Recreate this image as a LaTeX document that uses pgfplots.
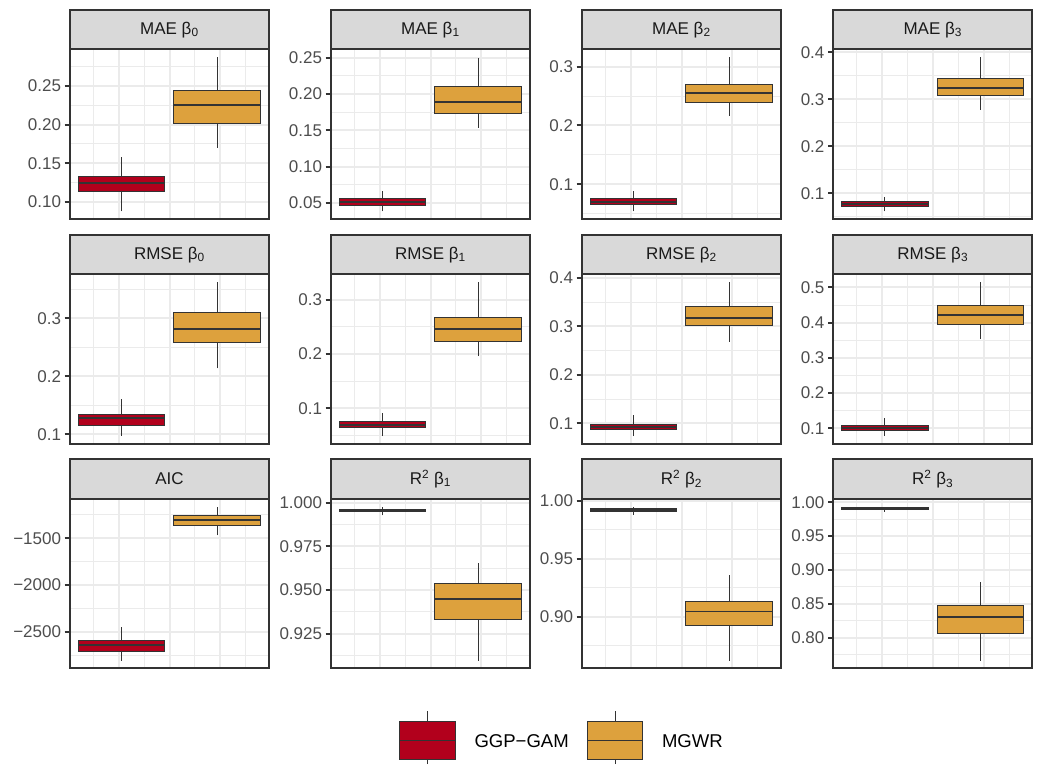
\documentclass[border=0pt]{standalone}
\usepackage{fontspec}
\setmainfont{Liberation Sans}
\usepackage{pgfplots}
\pgfplotsset{compat=1.18}
\definecolor{ggred}{RGB}{178,0,28}
\definecolor{ggorange}{RGB}{221,161,61}
\definecolor{grey20}{HTML}{333333}
\definecolor{grey30}{HTML}{4D4D4D}
\definecolor{grey10}{HTML}{1A1A1A}
\definecolor{grey85}{HTML}{D9D9D9}
\definecolor{grey92}{HTML}{EBEBEB}
\newcommand{\fs}{\fontsize{12.75}{14}\selectfont}
\newcommand{\fl}{\fontsize{13.9}{15}\selectfont}
\pgfplotsset{
  panel/.style={
    scale only axis, width=149.25pt, height=127.2pt, anchor=south west,
    xmin=0, xmax=1,
    xtick={0.244,0.5,0.756}, minor xtick={0.116,0.372,0.628,0.884},
    xticklabels={}, xmajorticks=false, xminorticks=false,
    yminorticks=false, scaled y ticks=false,
    ytick pos=left, minor tick length=0pt,
    grid=both,
    major grid style={grey92, line width=1.5pt},
    minor grid style={grey92, line width=0.75pt},
    axis line style={grey20, line width=1.5pt},
    tick align=outside, major tick length=4pt,
    ytick style={grey20, line width=1.5pt},
    yticklabel style={font=\fs, text=grey30, inner sep=0pt, xshift=-2.5pt},
    clip=false,
  }
}
% box: left, right, lower whisker, lower quartile, median, upper quartile, upper whisker, colour
\newcommand{\bxg}[8]{%
  \addplot[grey20, line width=0.75pt] coordinates {({(#1+#2)/2},#3) ({(#1+#2)/2},#4)};
  \addplot[grey20, line width=0.75pt] coordinates {({(#1+#2)/2},#6) ({(#1+#2)/2},#7)};
  \addplot[draw=grey20, fill=#8, line width=0.75pt] coordinates {(#1,#4) (#2,#4) (#2,#6) (#1,#6)} -- cycle;
  \addplot[grey20, line width=1.4pt] coordinates {(#1,#5) (#2,#5)};}
\newcommand{\bxr}[5]{\bxg{0.041}{0.476}{#1}{#2}{#3}{#4}{#5}{ggred}}
\newcommand{\bxo}[5]{\bxg{0.5215}{0.9565}{#1}{#2}{#3}{#4}{#5}{ggorange}}
\newcommand{\strip}[1]{%
  \draw[grey20, fill=grey85, line width=1.5pt] (rel axis cs:0,1) rectangle ([yshift=29.6pt]rel axis cs:1,1);
  \node[text=grey10, font=\fs, inner sep=0pt] at ([yshift=14.8pt]rel axis cs:0.5,1) {#1};}
\begin{document}
\begin{tikzpicture}
\useasboundingbox (0,0) rectangle (778.5pt,573pt);
% ---------------- Row 1
\begin{axis}[panel, at={(52.5pt,408.75pt)}, ymin=0.078, ymax=0.2972,
  ytick={0.10,0.15,0.20,0.25}, yticklabels={0.10,0.15,0.20,0.25}, minor ytick={0.125,0.175,0.225,0.275}]
\bxr{0.088}{0.1138}{0.125}{0.1327}{0.1582}
\bxo{0.1702}{0.2018}{0.2254}{0.2444}{0.2871}
\strip{MAE β\textsubscript{0}}
\end{axis}
\begin{axis}[panel, at={(248.25pt,408.75pt)}, ymin=0.028, ymax=0.2613,
  ytick={0.05,0.10,0.15,0.20,0.25}, yticklabels={0.05,0.10,0.15,0.20,0.25}, minor ytick={0.075,0.125,0.175,0.225}]
\bxr{0.0386}{0.0468}{0.0518}{0.0559}{0.0665}
\bxo{0.1536}{0.1738}{0.1893}{0.2100}{0.2500}
\strip{MAE β\textsubscript{1}}
\end{axis}
\begin{axis}[panel, at={(436.5pt,408.75pt)}, ymin=0.041, ymax=0.3292,
  ytick={0.1,0.2,0.3}, yticklabels={0.1,0.2,0.3}, minor ytick={0.05,0.15,0.25}]
\bxr{0.054}{0.0653}{0.0704}{0.075}{0.088}
\bxo{0.2167}{0.2394}{0.2547}{0.270}{0.316}
\strip{MAE β\textsubscript{2}}
\end{axis}
\begin{axis}[panel, at={(625pt,408.75pt)}, ymin=0.0453, ymax=0.406,
  ytick={0.1,0.2,0.3,0.4}, yticklabels={0.1,0.2,0.3,0.4}, minor ytick={0.05,0.15,0.25,0.35}]
\bxr{0.0617}{0.0715}{0.0779}{0.083}{0.0928}
\bxo{0.2773}{0.3085}{0.3241}{0.3433}{0.3894}
\strip{MAE β\textsubscript{3}}
\end{axis}
% ---------------- Row 2
\begin{axis}[panel, at={(52.5pt,240pt)}, ymin=0.0833, ymax=0.3759,
  ytick={0.1,0.2,0.3}, yticklabels={0.1,0.2,0.3}, minor ytick={0.15,0.25,0.35}]
\bxr{0.0976}{0.116}{0.1276}{0.1345}{0.1609}
\bxo{0.2138}{0.2579}{0.282}{0.3097}{0.362}
\strip{RMSE β\textsubscript{0}}
\end{axis}
\begin{axis}[panel, at={(248.25pt,240pt)}, ymin=0.0343, ymax=0.3467,
  ytick={0.1,0.2,0.3}, yticklabels={0.1,0.2,0.3}, minor ytick={0.05,0.15,0.25}]
\bxr{0.049}{0.0638}{0.0693}{0.0753}{0.0908}
\bxo{0.1963}{0.2234}{0.2455}{0.2676}{0.332}
\strip{RMSE β\textsubscript{1}}
\end{axis}
\begin{axis}[panel, at={(436.5pt,240pt)}, ymin=0.0574, ymax=0.407,
  ytick={0.1,0.2,0.3,0.4}, yticklabels={0.1,0.2,0.3,0.4}, minor ytick={0.15,0.25,0.35}]
\bxr{0.0738}{0.0876}{0.093}{0.0986}{0.117}
\bxo{0.2683}{0.302}{0.3177}{0.341}{0.3905}
\strip{RMSE β\textsubscript{2}}
\end{axis}
\begin{axis}[panel, at={(625pt,240pt)}, ymin=0.0555, ymax=0.5369,
  ytick={0.1,0.2,0.3,0.4,0.5}, yticklabels={0.1,0.2,0.3,0.4,0.5}, minor ytick={0.15,0.25,0.35,0.45}]
\bxr{0.0782}{0.0943}{0.101}{0.1074}{0.1284}
\bxo{0.3543}{0.396}{0.4215}{0.4498}{0.5142}
\strip{RMSE β\textsubscript{3}}
\end{axis}
% ---------------- Row 3
\begin{axis}[panel, at={(52.5pt,71.8pt)}, ymin=-2892, ymax=-1076,
  ytick={-2500,-2000,-1500}, yticklabels={−2500,−2000,−1500}, minor ytick={-2750,-2250,-1750,-1250}]
\bxr{-2811}{-2714}{-2643}{-2593}{-2453}
\bxo{-1468}{-1361}{-1301}{-1258}{-1162}
\strip{AIC}
\end{axis}
\begin{axis}[panel, at={(248.25pt,71.8pt)}, ymin=0.9052, ymax=1.0023,
  ytick={0.925,0.95,0.975,1}, yticklabels={0.925,0.950,0.975,1.000}, minor ytick={0.9125,0.9375,0.9625,0.9875}]
\bxr{0.9928}{0.9947}{0.9954}{0.9962}{0.9977}
\bxo{0.9095}{0.9330}{0.9447}{0.9535}{0.9653}
\strip{R\textsuperscript{2} β\textsubscript{1}}
\end{axis}
\begin{axis}[panel, at={(436.5pt,71.8pt)}, ymin=0.8555, ymax=1.0017,
  ytick={0.9,0.95,1}, yticklabels={0.90,0.95,1.00}, minor ytick={0.875,0.925,0.975}]
\bxr{0.988}{0.9909}{0.992}{0.9931}{0.9948}
\bxo{0.8621}{0.8922}{0.9044}{0.9133}{0.9362}
\strip{R\textsuperscript{2} β\textsubscript{2}}
\end{axis}
\begin{axis}[panel, at={(625pt,71.8pt)}, ymin=0.7548, ymax=1.0053,
  ytick={0.8,0.85,0.9,0.95,1}, yticklabels={0.80,0.85,0.90,0.95,1.00}, minor ytick={0.775,0.825,0.875,0.925,0.975}]
\bxr{0.9857}{0.9886}{0.9901}{0.9916}{0.9935}
\bxo{0.7662}{0.8066}{0.8303}{0.847}{0.882}
\strip{R\textsuperscript{2} β\textsubscript{3}}
\end{axis}
% ---------------- Legend
\draw[grey20, line width=0.75pt] (320.5pt,0pt) -- (320.5pt,39.75pt);
\draw[grey20, fill=ggred, line width=0.75pt] (299.5pt,3.75pt) rectangle (341.25pt,31.7pt);
\draw[grey20, line width=0.75pt] (299.5pt,17.75pt) -- (341.25pt,17.75pt);
\node[anchor=west, font=\fl, text=black, inner sep=0pt] at (355.7pt,17.5pt) {GGP−GAM};
\draw[grey20, line width=0.75pt] (461.25pt,0pt) -- (461.25pt,39.75pt);
\draw[grey20, fill=ggorange, line width=0.75pt] (440.25pt,3.75pt) rectangle (481.5pt,31.7pt);
\draw[grey20, line width=0.75pt] (440.25pt,17.75pt) -- (481.5pt,17.75pt);
\node[anchor=west, font=\fl, text=black, inner sep=0pt] at (496.3pt,17.5pt) {MGWR};
\end{tikzpicture}
\end{document}
